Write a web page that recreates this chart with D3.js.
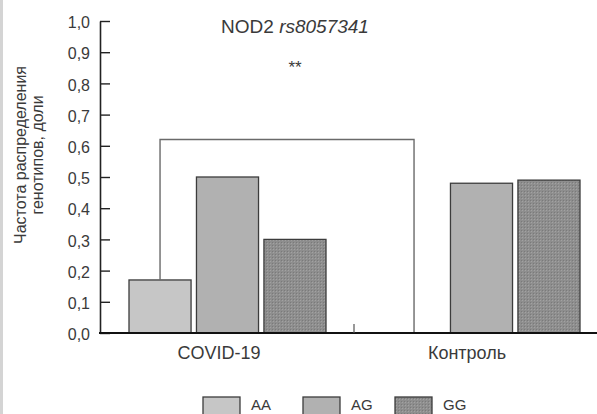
<!DOCTYPE html>
<html><head><meta charset="utf-8">
<script src="https://cdn.jsdelivr.net/npm/d3@7"></script>
<style>
html,body{margin:0;padding:0;background:#fff;}
svg text{font-family:"Liberation Sans",Arial,sans-serif;fill:#3a3a3a;}
</style></head>
<body><svg id="c" width="597" height="414"></svg>
<script>
const groups = ["COVID-19", "Контроль"];
const genotypes = ["AA", "AG", "GG"];
const covidValues = [0.17, 0.50, 0.30];
const controlValues = [0.00, 0.48, 0.49];
const yTicks = [0,0.1,0.2,0.3,0.4,0.5,0.6,0.7,0.8,0.9,1.0];
const bracketValue = 0.62;
const significance = "**";

const seriesByGroup = [covidValues, controlValues];
const colors = {AA:"#c6c6c6", AG:"#b1b1b1", GG:"#8e8e8e"};

const svg = d3.select("#c");
// scan edge
svg.append("rect").attr("x",0).attr("y",0).attr("width",3).attr("height",414).attr("fill","#d4d4d4");

const y = d3.scaleLinear().domain([0,1]).range([333,21]);
const x0 = d3.scaleBand().domain(groups).range([100,608]).padding(0);
const x1 = d3.scaleBand().domain(genotypes).range([29,226]).paddingInner(0.08).paddingOuter(0);

// texture pattern for GG
const defs = svg.append("defs");
const pat = defs.append("pattern").attr("id","ggpat").attr("width",3).attr("height",3).attr("patternUnits","userSpaceOnUse");
pat.append("rect").attr("width",3).attr("height",3).attr("fill",colors.GG);
pat.append("rect").attr("width",1).attr("height",1).attr("fill","#a2a2a2");
pat.append("rect").attr("x",2).attr("y",2).attr("width",1).attr("height",1).attr("fill","#7a7a7a");
const fillOf = g => g==="GG" ? "url(#ggpat)" : colors[g];

// bars
groups.forEach((g,gi)=>{
  genotypes.forEach((t,ti)=>{
    const v = seriesByGroup[gi][ti];
    if (v<=0) return;
    svg.append("rect")
      .attr("x", x0(g)+x1(t)).attr("y", y(v))
      .attr("width", x1.bandwidth()).attr("height", y(0)-y(v))
      .attr("fill", fillOf(t)).attr("stroke","#3c3c3c").attr("stroke-width",1.3);
  });
});

// bracket
const xa = x0(groups[0])+x1("AA")+x1.bandwidth()/2;
const xb = x0(groups[1])+x1("AA")+x1.bandwidth()/2;
svg.append("path")
  .attr("d", `M${xa},${y(covidValues[0])}V${y(bracketValue)}H${xb}V${y(0)}`)
  .attr("fill","none").attr("stroke","#6a6a6a").attr("stroke-width",1.4);
svg.append("text").attr("x",295).attr("y",73).attr("text-anchor","middle")
  .style("font-size","17px").text(significance);

// y axis
const yAxis = d3.axisLeft(y).tickValues(yTicks).tickSizeInner(-10).tickSizeOuter(0)
  .tickPadding(10).tickFormat(d=>d3.format(".1f")(d).replace(".",","));
const ga = svg.append("g").attr("transform","translate(100,0)").call(yAxis);
ga.select(".domain").attr("stroke","#222").attr("stroke-width",1.6);
ga.selectAll(".tick line").attr("stroke","#222").attr("stroke-width",1.4);
ga.selectAll(".tick text").style("font-size","16px").attr("dy","0.42em").attr("fill","#3a3a3a").attr("font-family","Liberation Sans, Arial, sans-serif");

// x axis
svg.append("line").attr("x1",99).attr("x2",597).attr("y1",y(0)).attr("y2",y(0))
  .attr("stroke","#111").attr("stroke-width",2);
svg.append("line").attr("x1",x0(groups[1])).attr("x2",x0(groups[1]))
  .attr("y1",y(0)).attr("y2",y(0)-9).attr("stroke","#555").attr("stroke-width",1.2);
groups.forEach((g,i)=>{
  svg.append("text").attr("x", i===0 ? 219 : 467).attr("y",359)
    .attr("text-anchor","middle").style("font-size","18px").text(g);
});

// title
const title = svg.append("text").attr("x",295).attr("y",33).attr("text-anchor","middle").style("font-size","19px");
title.append("tspan").text("NOD2 ");
title.append("tspan").style("font-style","italic").text("rs8057341");

// y label
const yl = svg.append("text").attr("transform","translate(0,155) rotate(-90)").attr("text-anchor","middle").style("font-size","16px");
yl.append("tspan").attr("x",0).attr("y",26).text("Частота распределения");
yl.append("tspan").attr("x",0).attr("y",43).text("генотипов, доли");

// legend
const legX = [203, 303, 395];
genotypes.forEach((t,i)=>{
  svg.append("rect").attr("x",legX[i]).attr("y",397).attr("width",37).attr("height",20)
    .attr("fill",fillOf(t)).attr("stroke","#3c3c3c").attr("stroke-width",1.3);
  svg.append("text").attr("x",legX[i]+48).attr("y",410).style("font-size","15px").text(t);
});
</script></body></html>
